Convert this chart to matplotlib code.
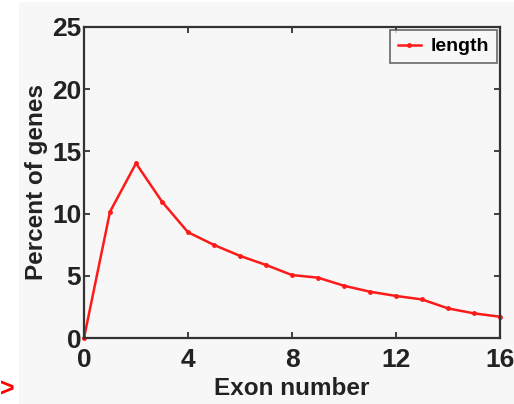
import matplotlib
matplotlib.use("Agg")
import matplotlib.pyplot as plt
from matplotlib.patches import Rectangle

exon_number = [0, 1, 2, 3, 4, 5, 6, 7, 8, 9, 10, 11, 12, 13, 14, 15, 16]
percent_genes = [0.0, 10.15, 14.04, 10.96, 8.5, 7.48, 6.6, 5.87, 5.06, 4.85,
                 4.2, 3.72, 3.38, 3.1, 2.38, 1.98, 1.71]
x_ticks = [0, 4, 8, 12, 16]
y_ticks = [0, 5, 10, 15, 20, 25]

plt.rcParams['font.family'] = ['Liberation Sans', 'DejaVu Sans']
plt.rcParams['font.weight'] = 'bold'

fig = plt.figure(figsize=(5.14, 4.04), dpi=100)
fig.patch.set_facecolor('white')
fig.patches.append(Rectangle((19/514, 0), 1, 1 - 2/404, transform=fig.transFigure,
                             facecolor='#f7f7f7', edgecolor='none', zorder=-10))
ax = fig.add_axes([84/514, 1 - 338/404, (500-84)/514, (338-27)/404])
ax.set_facecolor('#f7f7f7')

ax.plot(exon_number, percent_genes, color='#ff1a1a', lw=1.8, marker='o', ms=2.5,
        label='length', clip_on=False)

ax.set_xlim(0, 16)
ax.set_ylim(0, 25)
ax.set_xticks(x_ticks)
ax.set_yticks(y_ticks)
ax.tick_params(direction='in', length=4, width=1.2, top=True, right=True,
               labelsize=19, colors='#222222')
ax.tick_params(axis='x', pad=7)
ax.tick_params(axis='y', pad=2)
for s in ax.spines.values():
    s.set_linewidth(1.6)
    s.set_color('#333333')
for lab in ax.get_xticklabels() + ax.get_yticklabels():
    lab.set_fontweight('bold')

ax.set_xlabel('Exon number', fontsize=17.5, fontweight='bold', color='#222222', labelpad=4)
ax.set_ylabel('Percent of genes', fontsize=17.5, fontweight='bold', color='#222222', labelpad=3)

leg = ax.legend(loc='upper right', frameon=True, fancybox=False,
                borderaxespad=0.15, handlelength=1.2, handletextpad=0.5,
                borderpad=0.4, prop={'weight': 'bold', 'size': 14})
leg.get_frame().set_edgecolor('#444444')
leg.get_frame().set_linewidth(1.2)
leg.get_frame().set_facecolor('#f7f7f7')

fig.text(0.0, 1 - 390/404, '>', color='red', fontsize=18, fontweight='bold',
         va='center', ha='left')

fig.savefig('out.png', dpi=100, facecolor=fig.get_facecolor())
